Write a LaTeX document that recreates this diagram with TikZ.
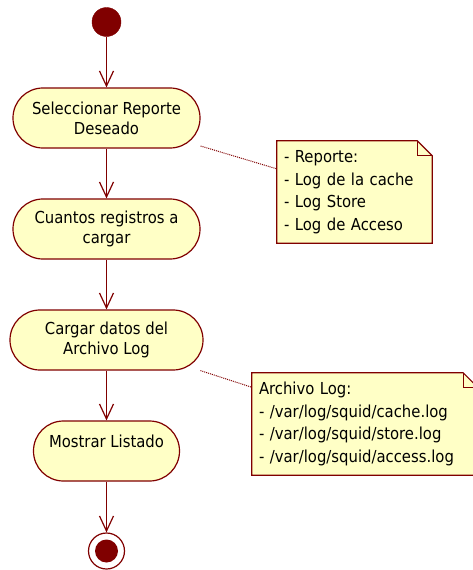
\documentclass[tikz,border=0pt]{standalone}
\usepackage{fontspec}
\setmainfont{DejaVu Sans Condensed}
\usetikzlibrary{arrows.meta,backgrounds}
\definecolor{umlred}{HTML}{800000}
\definecolor{umlfill}{HTML}{FFFFC6}
\tikzset{
  act/.style={rectangle, rounded corners=29.9pt, draw=umlred, fill=umlfill, line width=1.2pt,
    minimum height=60pt, align=center, inner sep=0pt, font=\fontsize{16.5}{20}\selectfont},
  startdot/.style={circle, draw=umlred, fill=umlred, minimum size=29pt, inner sep=0pt},
  enddot/.style={circle, draw=umlred, fill=white, line width=1.2pt, minimum size=36pt, inner sep=0pt,
    path picture={\fill[umlred] (path picture bounding box.center) circle (11.5pt);}},
  notetext/.style={rectangle, align=left, inner xsep=7pt, inner ysep=0pt,
    font=\fontsize{16.5}{22.5}\selectfont},
  noteline/.style={draw=umlred, fill=umlfill, line width=1.2pt, line join=miter},
  flow/.style={draw=umlred, line width=1.2pt, -{Straight Barb[length=15pt,width=14pt,line width=1.2pt]}},
  dotline/.style={draw=umlred, line width=1pt, dash pattern=on 1pt off 1pt}
}
\begin{document}
\begin{tikzpicture}[x=1pt,y=-1pt]
\useasboundingbox (0,0) rectangle (473,570);
\node[startdot] (start) at (106.5,22) {};
\node[act, minimum width=187pt] (a1) at (106.5,118) {Seleccionar Reporte\\Deseado};
\node[act, minimum width=187pt] (a2) at (106.5,229) {Cuantos registros a\\cargar};
\node[act, minimum width=193pt] (a3) at (106.5,340) {Cargar datos del\\Archivo Log};
\node[act, minimum width=146pt] (a4) at (106.5,451) {Mostrar Listado\\\phantom{X}};
\node[enddot] (end) at (106.5,551) {};

\node[notetext, minimum width=155pt, minimum height=102pt, text width=141pt] (n1) at (354.5,192)
  {- Reporte:\\- Log de la cache\\- Log Store\\- Log de Acceso};
\node[notetext, minimum width=226pt, minimum height=102pt, text width=212pt] (n2) at (365,424)
  {Archivo Log:\\- /var/log/squid/cache.log\\- /var/log/squid/store.log\\- /var/log/squid/access.log};

\begin{scope}[on background layer]
\foreach \n in {n1,n2}{
  \path[noteline] (\n.north west) -- ([xshift=-15pt]\n.north east) -- ([yshift=-15pt]\n.north east)
    -- (\n.south east) -- (\n.south west) -- cycle;
  \draw[noteline, fill=none] ([xshift=-15pt]\n.north east) |- ([yshift=-15pt]\n.north east);
}
\end{scope}

\draw[flow] (start) -- (a1);
\draw[flow] (a1) -- (a2);
\draw[flow] (a2) -- (a3);
\draw[flow] (a3) -- (a4);
\draw[flow] (a4) -- (end);
\draw[dotline] (a1) -- (n1);
\draw[dotline] (a3) -- (n2);
\end{tikzpicture}
\end{document}
